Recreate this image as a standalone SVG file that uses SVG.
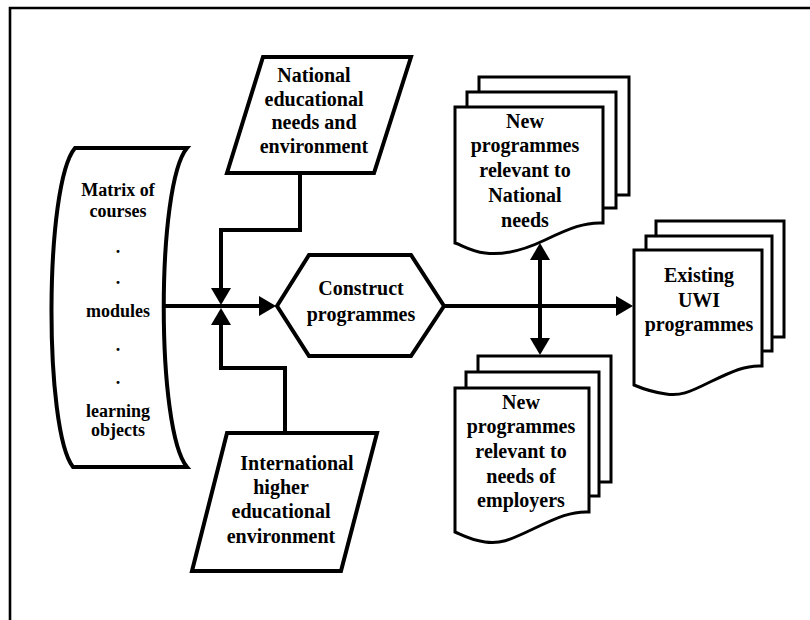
<svg xmlns="http://www.w3.org/2000/svg" width="810" height="620" viewBox="0 0 810 620">
<style>
  .shape { fill: #fff; stroke: #000; stroke-width: 4; stroke-linejoin: miter; }
  .doc { fill: #fff; stroke: #000; stroke-width: 3; stroke-linejoin: miter; }
  .conn { fill: none; stroke: #000; stroke-width: 4; stroke-linejoin: miter; stroke-linecap: butt; }
  .t { font-family: 'Liberation Serif', serif; font-weight: bold; font-size: 20px; text-anchor: middle; fill: #000; }
  .ts { font-size: 18px; }
</style>
<defs>
  <marker id="arr" viewBox="0 0 17 20" refX="9" refY="10" markerWidth="17" markerHeight="20" markerUnits="userSpaceOnUse" orient="auto-start-reverse">
    <path d="M0,0 L17,10 L0,20 Z" fill="#000"/>
  </marker>
</defs>
<rect width="810" height="620" fill="#fff"/>
<path d="M10,624 V8 H814" fill="none" stroke="#000" stroke-width="2.6"/>

<g id="matrix">
  <path class="shape" d="M75,148 H187 C156,185 156,430 187,467 H73 C44,430 44,185 75,148 Z"/>
  <text class="t ts" x="118" y="196">Matrix of</text>
  <text class="t ts" x="118" y="217">courses</text>
  <text class="t ts" x="118" y="253">.</text>
  <text class="t ts" x="118" y="284">.</text>
  <text class="t ts" x="118" y="317">modules</text>
  <text class="t ts" x="118" y="351">.</text>
  <text class="t ts" x="118" y="384">.</text>
  <text class="t ts" x="118" y="417">learning</text>
  <text class="t ts" x="118" y="436">objects</text>
</g>

<g id="national">
  <polygon class="shape" points="263,57 411,57 374,173 227,173"/>
  <text class="t" x="314" y="82">National</text>
  <text class="t" x="314" y="106">educational</text>
  <text class="t" x="314" y="129">needs and</text>
  <text class="t" x="314" y="153">environment</text>
</g>

<g id="international">
  <polygon class="shape" points="227,433 377,433 341,571 192,571"/>
  <text class="t" x="297" y="470">International</text>
  <text class="t" x="281" y="494">higher</text>
  <text class="t" x="281" y="518">educational</text>
  <text class="t" x="281" y="543">environment</text>
</g>

<g id="construct">
  <polygon class="shape" points="277,306 309,255 411,255 444,306 411,356 309,356"/>
  <text class="t" x="361" y="295">Construct</text>
  <text class="t" x="361" y="321">programmes</text>
</g>

<g id="doc-national">
  <rect class="doc" x="479" y="77" width="150" height="118"/>
  <rect class="doc" x="467" y="92" width="149" height="116"/>
  <path class="doc" d="M455,107 H603 V223 C585,222 570,228 545,240 C520,252 500,255 485,253 C470,251 462,245 455,243 Z"/>
  <text class="t" x="525" y="128">New</text>
  <text class="t" x="525" y="152">programmes</text>
  <text class="t" x="525" y="177">relevant to</text>
  <text class="t" x="525" y="202">National</text>
  <text class="t" x="525" y="227">needs</text>
</g>

<g id="doc-employers">
  <rect class="doc" x="478" y="356" width="133" height="126"/>
  <rect class="doc" x="466" y="372" width="133" height="124"/>
  <path class="doc" d="M455,388 H589 V512 C572,511 558,517 533,529 C508,541 500,544 485,542 C470,540 462,535 455,532 Z"/>
  <text class="t" x="521" y="409">New</text>
  <text class="t" x="521" y="433">programmes</text>
  <text class="t" x="521" y="458">relevant to</text>
  <text class="t" x="521" y="483">needs of</text>
  <text class="t" x="521" y="507">employers</text>
</g>

<g id="doc-existing">
  <rect class="doc" x="656" y="221" width="128" height="116"/>
  <rect class="doc" x="646" y="236" width="126" height="115"/>
  <path class="doc" d="M634,250 H762 V366 C746,365 733,371 710,382 C688,393 680,396 666,394 C652,392 641,388 634,385 Z"/>
  <text class="t" x="699" y="282">Existing</text>
  <text class="t" x="699" y="307">UWI</text>
  <text class="t" x="699" y="331">programmes</text>
</g>

<g id="connectors">
  <path class="conn" d="M164,306 H268" marker-end="url(#arr)"/>
  <path class="conn" d="M300,173 V230 H221 V297" marker-end="url(#arr)"/>
  <path class="conn" d="M285,433 V368 H221 V316" marker-end="url(#arr)"/>
  <path class="conn" d="M444,306 H625" marker-end="url(#arr)"/>
  <path class="conn" d="M540,251 V347" marker-start="url(#arr)" marker-end="url(#arr)"/>
</g>
</svg>
